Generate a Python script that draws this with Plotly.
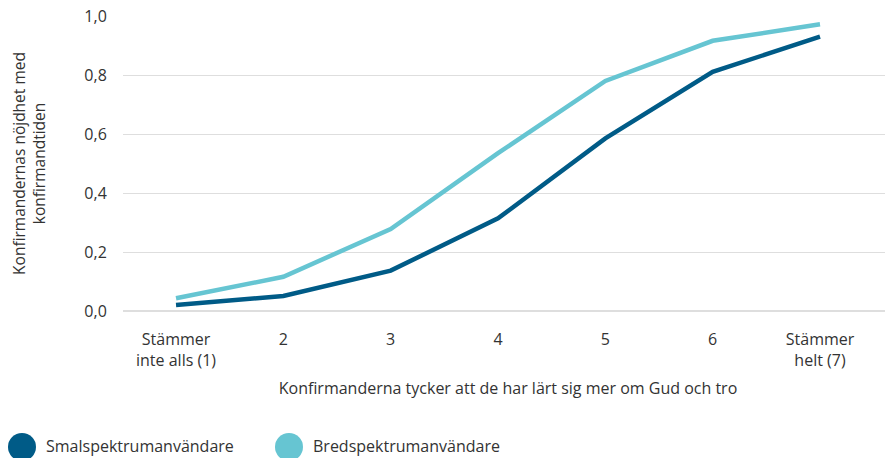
import plotly.graph_objects as go

categories = ["Stämmer<br>inte alls (1)", "2", "3", "4", "5", "6", "Stämmer<br>helt (7)"]
x_pos = [1, 2, 3, 4, 5, 6, 7]
smal = [0.020, 0.051, 0.137, 0.314, 0.585, 0.811, 0.930]
bred = [0.043, 0.116, 0.278, 0.535, 0.780, 0.916, 0.972]
y_ticks = [0.0, 0.2, 0.4, 0.6, 0.8, 1.0]
y_ticktext = ["0,0", "0,2", "0,4", "0,6", "0,8", "1,0"]
series_names = ["Smalspektrumanvändare", "Bredspektrumanvändare"]
colors = ["#005b87", "#66c5d2"]

FONT = "Open Sans"
TXT = "#333333"

# page body has an 8px margin: compensate so plot area lands at screen x 123..893, y 16..311
OFF = 8
PL, PR, PT, PB = 123, 893, 16, 311
W, H = 893, 458
YMAX = 1.0 + 1e-4

fig = go.Figure()
fig.add_trace(go.Scatter(x=x_pos, y=bred, mode="lines", name=series_names[1],
                         line=dict(color=colors[1], width=4.5), showlegend=False))
fig.add_trace(go.Scatter(x=x_pos, y=smal, mode="lines", name=series_names[0],
                         line=dict(color=colors[0], width=4.5), showlegend=False))

pw, ph = PR - PL, PB - PT
legend_x = [22, 289]
for i, name in enumerate(series_names):
    cx = legend_x[i]
    fig.add_shape(type="circle", xref="paper", yref="paper",
                  x0=(cx - 14 - PL) / pw, x1=(cx + 14 - PL) / pw,
                  y0=(PB - 461) / ph, y1=(PB - 433) / ph,
                  fillcolor=colors[i], line=dict(width=0), layer="above")
    fig.add_annotation(text=name, xref="paper", yref="paper",
                       x=(cx + 22 - PL) / pw, y=(PB - 446) / ph,
                       xanchor="left", yanchor="middle", showarrow=False,
                       font=dict(family=FONT, size=16, color=TXT))

fig.update_layout(
    width=W, height=H,
    margin=dict(l=PL - OFF, r=W + OFF - PR, t=PT - OFF, b=H + OFF - PB, pad=0),
    paper_bgcolor="white", plot_bgcolor="white",
    font=dict(family=FONT, size=16, color=TXT),
    showlegend=False,
)
fig.update_xaxes(
    range=[0.506, 7.68], tickmode="array", tickvals=x_pos, ticktext=categories,
    showgrid=False, zeroline=False, showline=False, automargin="bottom+height",
    ticks="outside", ticklen=14, tickcolor="rgba(0,0,0,0)",
    tickfont=dict(family=FONT, size=16, color=TXT), ticklabeloverflow="allow",
    title=dict(text="Konfirmanderna tycker att de har lärt sig mer om Gud och tro",
               font=dict(family=FONT, size=16, color=TXT), standoff=12),
)
fig.update_yaxes(
    range=[0, YMAX], tickmode="array", tickvals=y_ticks, ticktext=y_ticktext,
    showgrid=True, gridcolor="#dedede", gridwidth=1, automargin="left+width",
    zeroline=True, zerolinecolor="#dedede", zerolinewidth=1.5,
    showline=False, ticks="outside", ticklen=12, tickcolor="rgba(0,0,0,0)",
    tickfont=dict(family=FONT, size=16, color=TXT), ticklabeloverflow="allow",
    title=dict(text="Konfirmandernas nöjdhet med<br>konfirmandtiden",
               font=dict(family=FONT, size=15.5, color=TXT), standoff=37),
)

fig.write_html("out.html")
